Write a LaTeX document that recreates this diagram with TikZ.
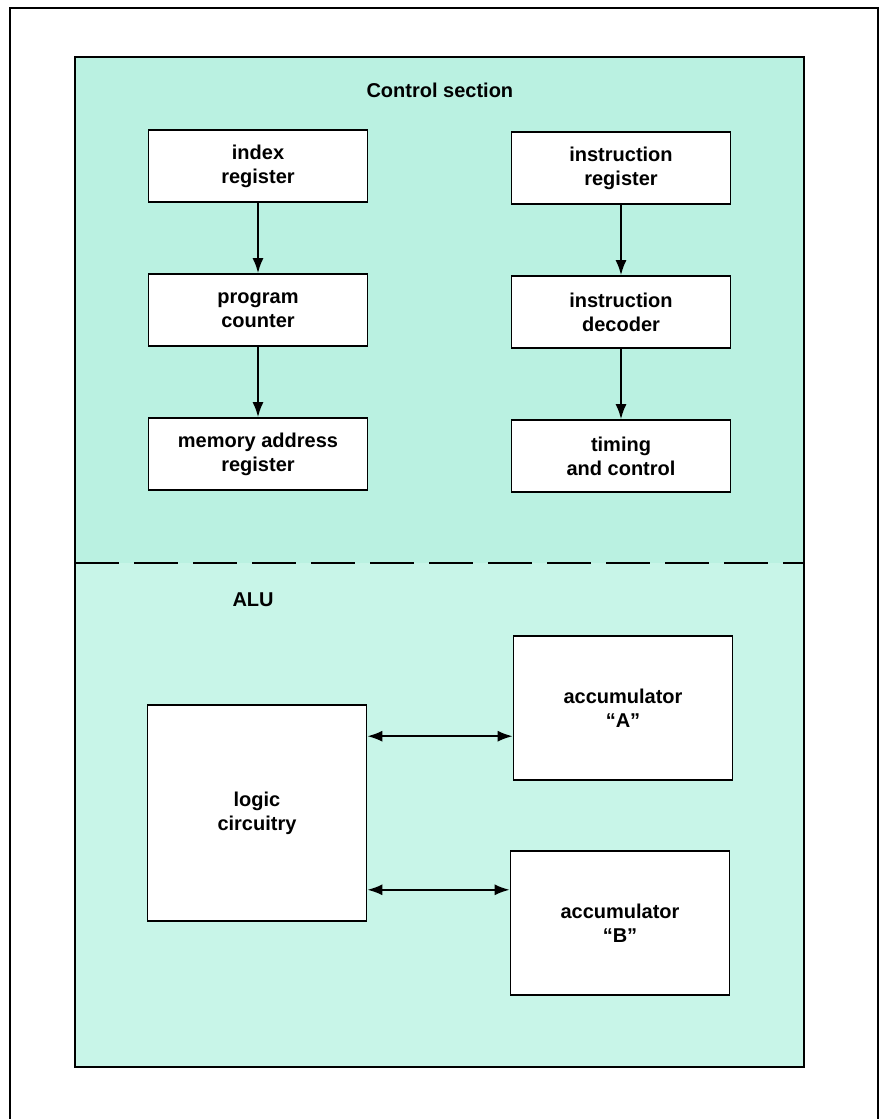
\documentclass[tikz,border=0pt]{standalone}
\usepackage{fontspec}
\setmainfont{Liberation Sans}
\usetikzlibrary{arrows.meta}
\definecolor{ctrlteal}{RGB}{186,241,225}
\definecolor{aluteal}{RGB}{200,245,232}
\tikzset{
	regbox/.style={draw, line width=1.6pt, fill=white, minimum width=219pt, minimum height=72pt, align=center, inner sep=2pt},
	flow/.style={line width=2pt, -{Latex[length=15pt,width=11pt]}},
	link/.style={line width=2pt, {Latex[length=15pt,width=11pt]}-{Latex[length=15pt,width=11pt]}}
}

\begin{document}
\begin{tikzpicture}[x=1pt, y=-1pt, font=\fontsize{20}{24}\selectfont\bfseries]
			%%%%% START %%%%%
			\useasboundingbox (0, 0) rectangle (885, 1119);
			
			\draw[line width=1.8pt] (10, 1119) -- (10, 8) -- (878, 8) -- (878, 1119);
			
			\draw[fill=ctrlteal, draw=none] (75, 57) rectangle (804, 563);
			\draw[fill=aluteal, draw=none] (75, 563) rectangle (804, 1067);
			\draw[line width=1.6pt] (75, 57) rectangle (804, 1067);
			\draw[line width=1.8pt, dash pattern=on 44pt off 15pt] (75, 563) -- (804, 563);
			
			\node[anchor=base west] (ctrl) at (363, 97) {Control section};
			\node[anchor=base west] (alu) at (229, 606) {ALU};
			
			\node[regbox] (index) at (258, 166) {index\\register};
			\node[regbox] (pc) at (258, 310) {program\\counter};
			\node[regbox] (mar) at (258, 454) {memory address\\register};
			
			\node[regbox] (ir) at (621, 168) {instruction\\register};
			\node[regbox] (dec) at (621, 312) {instruction\\decoder};
			\node[regbox] (timing) at (621, 456) {timing\\and control};
			
			\draw[flow] (index) -- (pc);
			\draw[flow] (pc) -- (mar);
			\draw[flow] (ir) -- (dec);
			\draw[flow] (dec) -- (timing);
			
			\node[regbox, minimum height=216pt] (logic) at (257, 813) {logic\\circuitry};
			\node[regbox, minimum height=144pt] (accA) at (623, 708) {accumulator\\``A''};
			\node[regbox, minimum height=144pt] (accB) at (620, 923) {accumulator\\``B''};
			
			\draw[link] ([yshift=-32pt]logic.north east) -- ([yshift=-32pt]logic.north east -| accA.west);
			\draw[link] ([yshift=32pt]logic.south east) -- ([yshift=32pt]logic.south east -| accB.west);
			
			%%%%% END %%%%%
\end{tikzpicture}
\end{document}
